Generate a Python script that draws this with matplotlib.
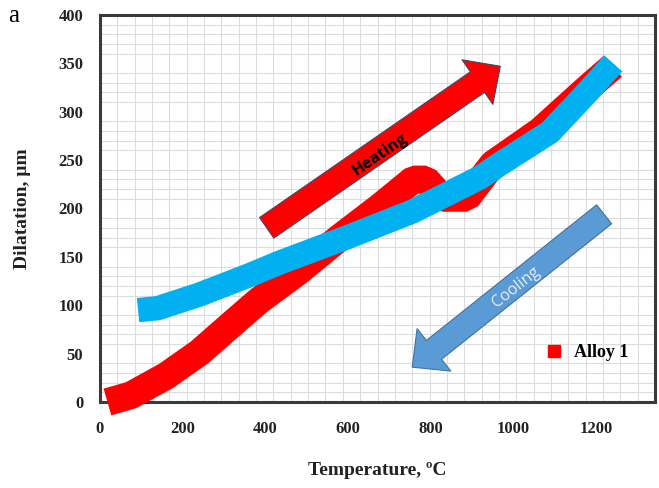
import numpy as np
import matplotlib
matplotlib.use('Agg')
import matplotlib.pyplot as plt
from matplotlib.lines import Line2D

# Curva de dilatación (calentamiento) - Alloy 1
heat_T = [18, 75, 160, 240, 320, 385, 480, 580, 675, 758, 788, 828, 887, 950, 1064, 1178, 1240]
heat_D = [0, 7, 27, 51, 81, 105, 135, 170, 201, 230, 230, 211, 211, 246, 280, 324, 347]

# Curva de enfriamiento
cool_T = [92, 140, 240, 361, 434, 596, 756, 919, 967, 1088, 1178, 1241]
cool_D = [95, 97, 111, 131, 144, 170, 197, 232, 246, 279, 320, 350]

x_ticks = [0, 200, 400, 600, 800, 1000, 1200]
y_ticks = [0, 50, 100, 150, 200, 250, 300, 350, 400]

serif = 'Liberation Serif'

fig = plt.figure(figsize=(6.59, 4.88), dpi=100)
ax = fig.add_axes([100/659, 86/488, 555/659, 387/488])

ax.set_xlim(0, 1342)
ax.set_ylim(0, 400)

# rejilla fina
ax.set_xticks(np.linspace(0, 1342, 33), minor=True)
ax.set_yticks(np.arange(0, 401, 10), minor=True)
ax.grid(True, which='minor', color='#dcdcdc', lw=0.8)
ax.set_axisbelow(True)

ax.set_xticks(x_ticks)
ax.set_yticks(y_ticks)
ax.tick_params(which='both', length=0)
ax.tick_params(axis='x', pad=14)
ax.tick_params(axis='y', pad=12)
for lab in ax.get_xticklabels() + ax.get_yticklabels():
    lab.set_fontfamily(serif)
    lab.set_fontweight('bold')
    lab.set_fontsize(12)
    lab.set_color('#222222')

for s in ax.spines.values():
    s.set_color('#3a3a3a')
    s.set_linewidth(2.2)

# curvas gruesas
ax.plot(heat_T, heat_D, color='#ff0000', lw=20, solid_capstyle='butt',
        solid_joinstyle='bevel', clip_on=False, zorder=3)
ax.plot(cool_T, cool_D, color='#00b0f0', lw=17.5, solid_capstyle='butt',
        solid_joinstyle='bevel', clip_on=False, zorder=4)

# flechas
ax.annotate('', xy=(968, 347), xytext=(403, 180),
            arrowprops=dict(arrowstyle='simple,head_length=1.0,head_width=1.95,tail_width=0.9',
                            mutation_scale=20, fc='#ff0000', ec='#3b4a6b', lw=0.8,
                            shrinkA=0, shrinkB=0), zorder=5)
ax.annotate('', xy=(755, 36), xytext=(1219, 194),
            arrowprops=dict(arrowstyle='simple,head_length=1.0,head_width=1.95,tail_width=0.87',
                            mutation_scale=20, fc='#5b9bd5', ec='#41719c', lw=0.8,
                            shrinkA=0, shrinkB=0), zorder=5)
ax.text(676, 256, 'Heating', rotation=34.5, rotation_mode='anchor', ha='center', va='center',
        fontsize=11.5, fontweight='bold', family='Open Sans', color='black', zorder=6)
ax.text(1005, 118, 'Cooling', rotation=38.3, rotation_mode='anchor', ha='center', va='center',
        fontsize=11.5, family='Open Sans', color='#e6eef8', zorder=6)

# leyenda
handle = Line2D([], [], marker='s', color='#ff0000', linestyle='none', markersize=8.4)
leg = ax.legend([handle], ['Alloy 1'], loc='center', bbox_to_anchor=(0.868, 0.127),
                frameon=False, handletextpad=0.1, borderaxespad=0,
                prop={'family': serif, 'weight': 'bold', 'size': 13})

ax.set_xlabel('Temperature, ºC', family=serif, fontweight='bold', fontsize=14,
              color='#222222', labelpad=18)
ax.set_ylabel('Dilatation, µm', family=serif, fontweight='bold', fontsize=14,
              color='#222222', labelpad=20)

fig.text(14/659, 1 - 16/488, 'a', family=serif, fontsize=18, ha='center', va='center')

fig.savefig('out.png', dpi=100, facecolor='white')
